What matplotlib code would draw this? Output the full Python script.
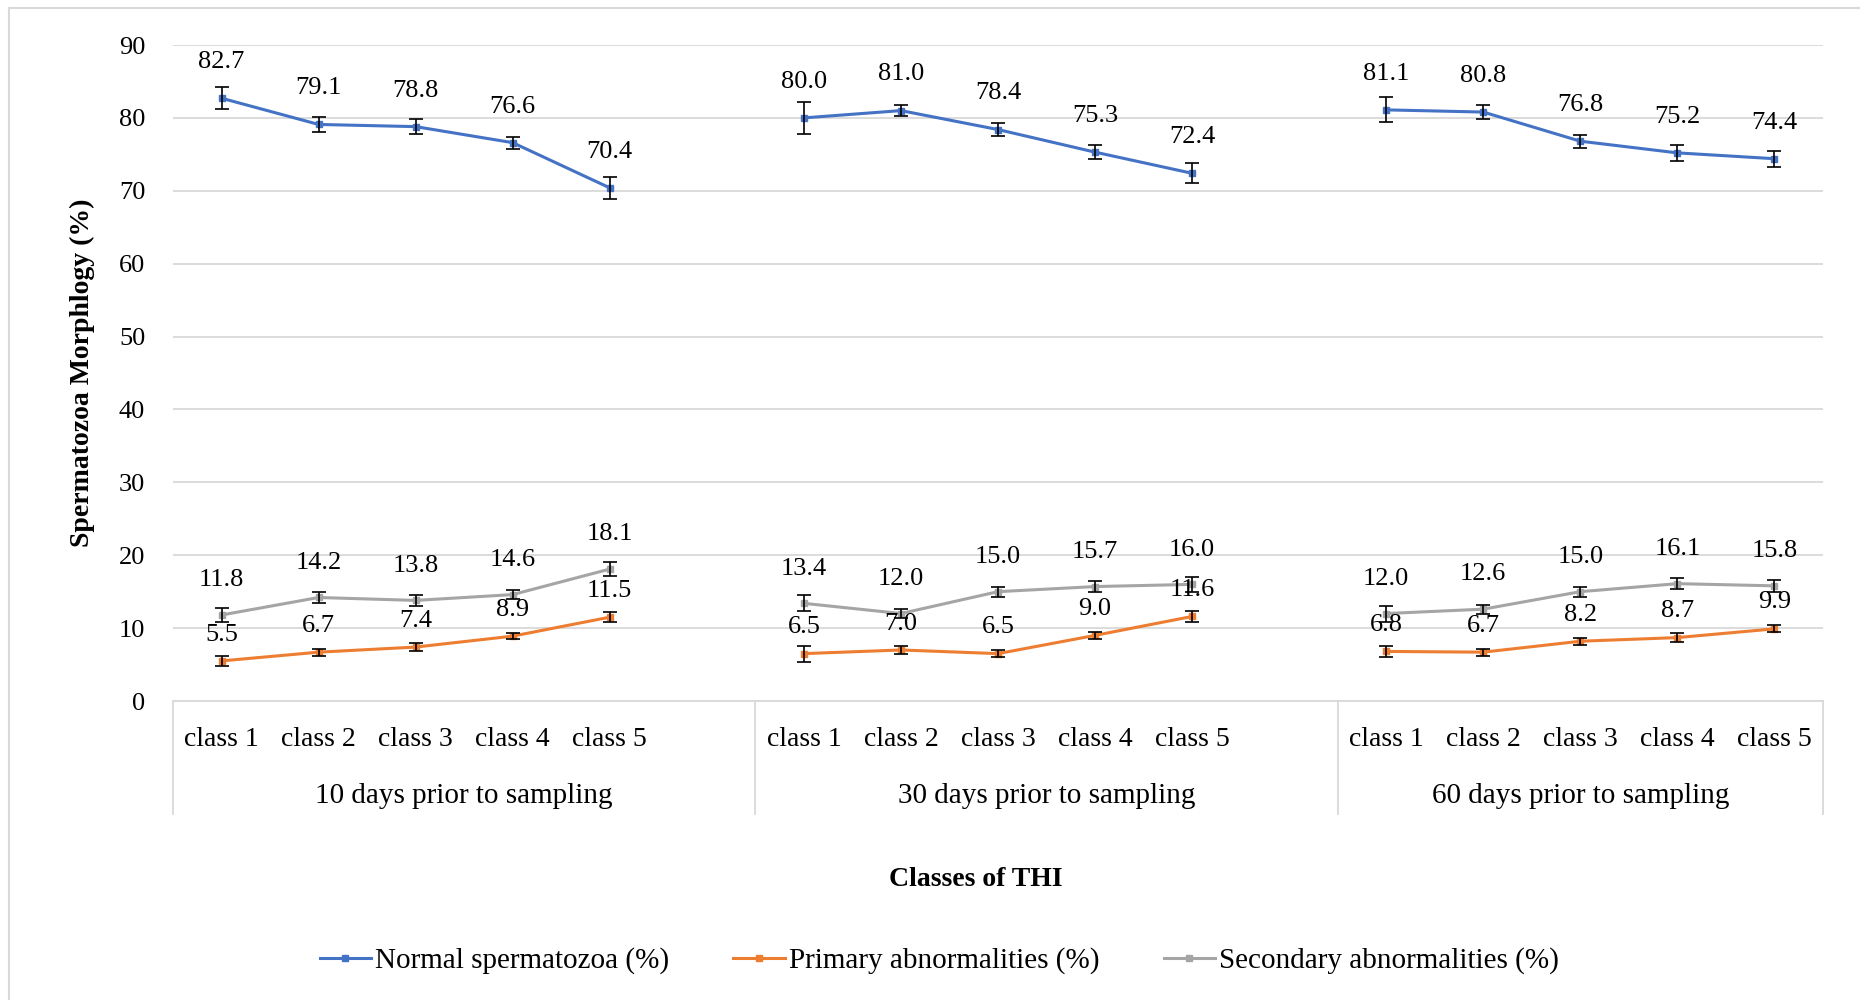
import numpy as np
import matplotlib.pyplot as plt
from matplotlib.lines import Line2D

plt.rcParams['font.family'] = ['Liberation Serif', 'DejaVu Serif']

# data
groups = ['10 days prior to sampling', '30 days prior to sampling', '60 days prior to sampling']
classes = ['class 1', 'class 2', 'class 3', 'class 4', 'class 5']

normal = [[82.7, 79.1, 78.8, 76.6, 70.4],
          [80.0, 81.0, 78.4, 75.3, 72.4],
          [81.1, 80.8, 76.8, 75.2, 74.4]]
normal_err = [[1.5, 1.0, 1.0, 0.8, 1.5],
              [2.2, 0.8, 0.9, 1.0, 1.4],
              [1.7, 0.9, 0.9, 1.1, 1.1]]

primary = [[5.5, 6.7, 7.4, 8.9, 11.5],
           [6.5, 7.0, 6.5, 9.0, 11.6],
           [6.8, 6.7, 8.2, 8.7, 9.9]]
primary_err = [[0.7, 0.5, 0.5, 0.4, 0.7],
               [1.1, 0.5, 0.5, 0.5, 0.8],
               [0.8, 0.5, 0.5, 0.6, 0.5]]

secondary = [[11.8, 14.2, 13.8, 14.6, 18.1],
             [13.4, 12.0, 15.0, 15.7, 16.0],
             [12.0, 12.6, 15.0, 16.1, 15.8]]
secondary_err = [[1.0, 0.7, 0.7, 0.6, 1.0],
                 [1.1, 0.6, 0.7, 0.7, 1.0],
                 [1.1, 0.6, 0.7, 0.8, 0.8]]

# name, values, errors, colour, label offset (pt)
series = [('Normal spermatozoa (%)', normal, normal_err, '#4472C4', 26),
          ('Primary abnormalities (%)', primary, primary_err, '#ED7D31', 19),
          ('Secondary abnormalities (%)', secondary, secondary_err, '#A5A5A5', 25)]

# x positions: groups 1 and 2 carry an empty slot after them (as in the Excel chart)
group_start = [0, 6, 12]
group_span = [(-0.5, 5.5), (5.5, 11.5), (11.5, 16.5)]

fig = plt.figure(figsize=(18.6, 10), dpi=100)
ax = fig.add_axes([173 / 1860, 1 - 701 / 1000, (1823 - 173) / 1860, 656 / 1000])

fs = 20
for name, vals, errs, col, off in series:
    for g in range(3):
        x = np.arange(5) + group_start[g]
        ax.plot(x, vals[g], color=col, lw=2.2, marker='s', ms=5, zorder=3)
        ax.errorbar(x, vals[g], yerr=errs[g], fmt='none', ecolor='black',
                    elinewidth=1.2, capsize=5, capthick=1.2, zorder=4)
        for xi, v in zip(x, vals[g]):
            ax.annotate(f'{v:.1f}', (xi, v), xytext=(0, off), textcoords='offset points',
                        ha='center', va='center', fontsize=19, zorder=5)

ax.set_xlim(-0.5, 16.5)
ax.set_ylim(0, 90)
ax.set_yticks(range(0, 91, 10))
ax.tick_params(axis='y', length=0, pad=20, labelsize=19)
ax.set_xticks([])
ax.grid(axis='y', color='#D9D9D9', lw=1.3)
ax.set_axisbelow(True)
for s in ['left', 'right', 'top']:
    ax.spines[s].set_visible(False)
ax.spines['bottom'].set_color('#D9D9D9')
ax.spines['bottom'].set_linewidth(1.3)

ax.set_ylabel('Spermatozoa Morphlogy (%)', fontsize=fs, fontweight='bold')
ax.yaxis.set_label_coords((95 - 173) / 1650, 0.5)

# multi-level category axis
trans = ax.get_xaxis_transform()
for g in range(3):
    for i, c in enumerate(classes):
        ax.text(group_start[g] + i, -0.058, c, transform=trans, ha='center', va='center',
                fontsize=fs, clip_on=False)
    lo, hi = group_span[g]
    ax.text((lo + hi) / 2, -0.145, groups[g], transform=trans, ha='center', va='center',
            fontsize=21, clip_on=False)
for xd in [-0.5, 5.5, 11.5, 16.5]:
    ax.plot([xd, xd], [0, -0.172], transform=trans, color='#D9D9D9', lw=1.3, clip_on=False)

fig.text(976 / 1860, 1 - 879 / 1000, 'Classes of THI', ha='center', va='center',
         fontsize=fs, fontweight='bold')

handles = [Line2D([], [], color=s[3], lw=2.2, marker='s', ms=5) for s in series]
fig.legend(handles, [s[0] for s in series], loc='center', bbox_to_anchor=(0.505, 0.039),
           ncol=3, frameon=False, fontsize=21, handlelength=1.75, handletextpad=0.15,
           columnspacing=2.2)

# thin frame on top and left, as in the source image
fig.add_artist(Line2D([9 / 1860, 9 / 1860], [0, 1 - 8 / 1000], color='#D9D9D9', lw=1.5))
fig.add_artist(Line2D([9 / 1860, 1], [1 - 8 / 1000, 1 - 8 / 1000], color='#D9D9D9', lw=1.5))

fig.savefig('out.png', dpi=100)
